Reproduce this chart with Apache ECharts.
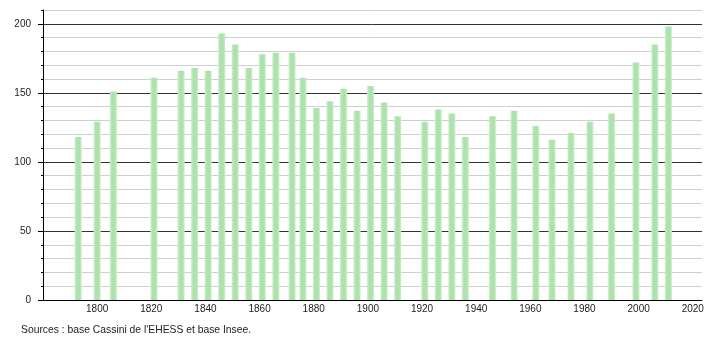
<!DOCTYPE html>
<html>
<head>
<meta charset="utf-8">
<script src="https://cdn.jsdelivr.net/npm/echarts@6/dist/echarts.min.js"></script>
<style>
html,body{margin:0;padding:0;background:#fff;}
#c{width:710px;height:340px;}
</style>
</head>
<body>
<div id="c"></div>
<script>
var years = [1793,1800,1806,1821,1831,1836,1841,1846,1851,1856,1861,1866,1872,1876,1881,1886,1891,1896,1901,1906,1911,1921,1926,1931,1936,1946,1954,1962,1968,1975,1982,1990,1999,2006,2011];
var population = [118,129,151,161,166,168,166,193,185,168,178,179,179,161,139,144,153,137,155,143,133,129,138,135,118,133,137,126,116,121,129,135,172,185,198];
var xTicks = [1800,1820,1840,1860,1880,1900,1920,1940,1960,1980,2000,2020];
var yTicks = [0,50,100,150,200];
var sourceText = "Sources : base Cassini de l'EHESS et base Insee.";

var font = "'Liberation Sans',Arial,sans-serif";
var chart = echarts.init(document.getElementById('c'), null, {renderer:'canvas'});
var data = years.map(function(y,i){return [y, population[i]];});
chart.setOption({
  animation:false,
  backgroundColor:'#fff',
  grid:{left:43,right:8,top:10,bottom:40,containLabel:false},
  xAxis:{
    type:'value', min:1780, max:2023.4, interval:20,
    axisLine:{show:true,onZero:false,lineStyle:{color:'#000',width:1}},
    axisTick:{show:false},
    splitLine:{show:false},
    axisLabel:{
      showMinLabel:false, showMaxLabel:false,
      color:'#222', fontFamily:font, fontSize:10, margin:4,
      formatter:function(v){return xTicks.indexOf(v)>=0 ? String(v) : '';}
    }
  },
  yAxis:[{
    type:'value', min:0, max:210, interval:10,
    axisLine:{show:true,lineStyle:{color:'#000',width:1}},
    axisTick:{show:true,length:2,lineStyle:{color:'#000'}},
    axisLabel:{show:false},
    splitLine:{show:true,lineStyle:{color:'#cfcfcf',width:1}}
  },{
    type:'value', min:0, max:210, interval:50, position:'left',
    axisLine:{show:false},
    axisTick:{show:true,length:5,lineStyle:{color:'#000'}},
    axisLabel:{
      showMaxLabel:false,
      color:'#222', fontFamily:font, fontSize:10, margin:12,
      formatter:function(v){return yTicks.indexOf(v)>=0 ? String(v) : '';}
    },
    splitLine:{show:true,showMaxLine:false,lineStyle:{color:'#333',width:1}}
  }],
  graphic:[{
    type:'text', x:21, y:324, scaleX:0.94,
    style:{text:sourceText, fill:'#222', font:'11px '+font}
  }],
  series:[{
    type:'bar', data:data, barWidth:7, xAxisIndex:0, yAxisIndex:0, z:3,
    itemStyle:{
      color:new echarts.graphic.LinearGradient(0,0,1,0,[
        {offset:0,color:'#cdeecd'},
        {offset:0.3,color:'#ade2ad'},
        {offset:0.7,color:'#ade2ad'},
        {offset:1,color:'#cdeecd'}
      ])
    }
  }]
});
</script>
</body>
</html>
